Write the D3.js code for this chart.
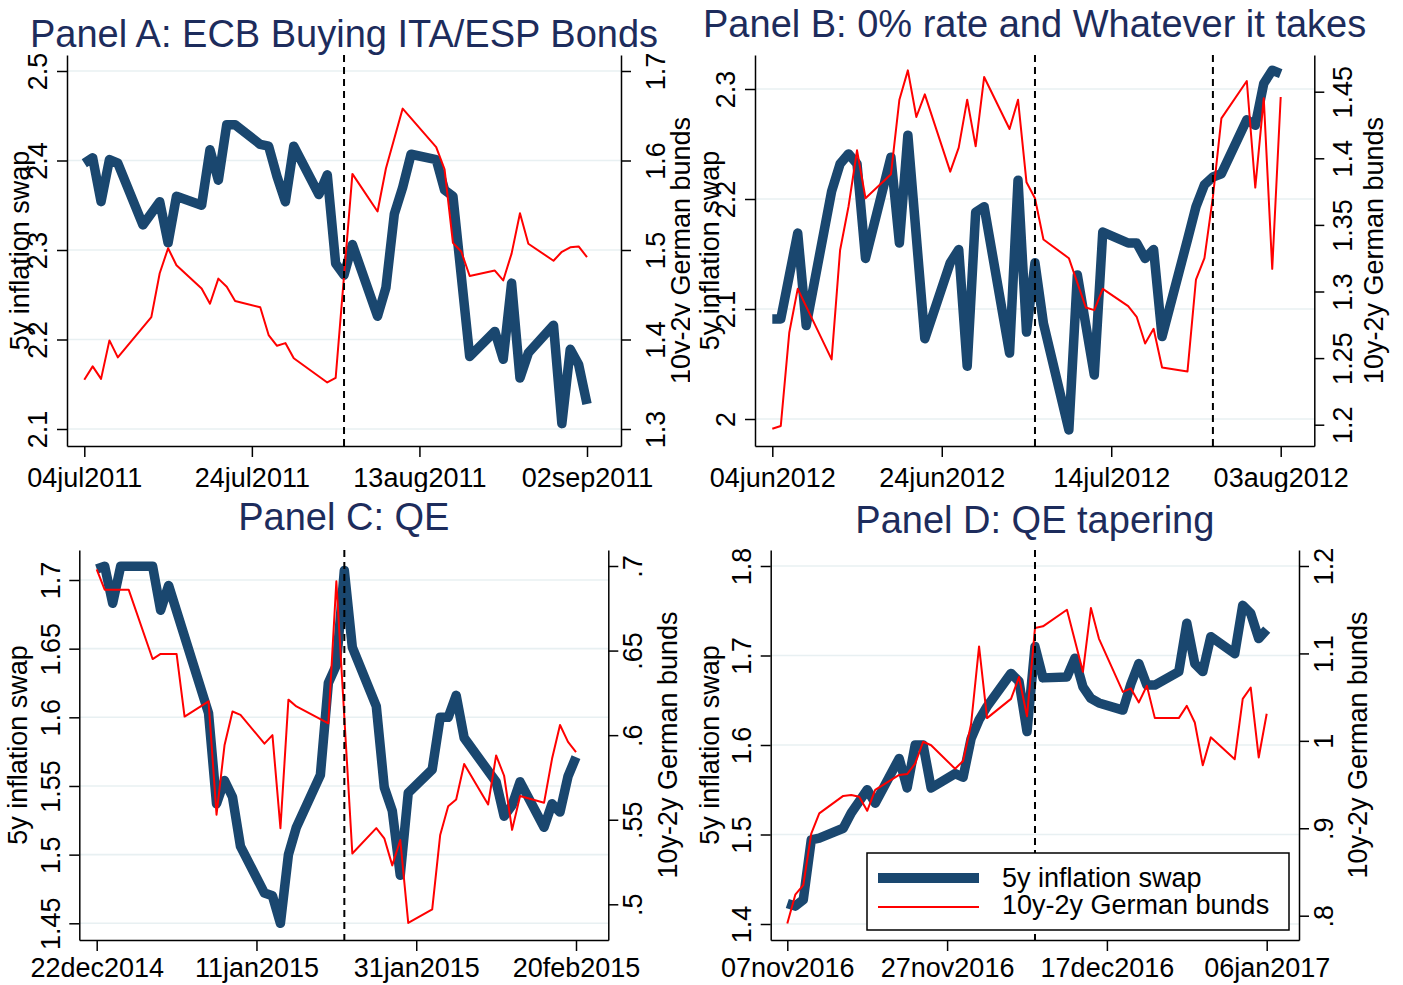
<!DOCTYPE html>
<html>
<head>
<meta charset="utf-8">
<script src="https://cdn.jsdelivr.net/npm/d3@7"></script>
<style>
    body { margin: 0; background: #fff; }
    svg { font-family: "Liberation Sans", Arial, Helvetica, sans-serif; }
    .grid line { stroke: #e8f0f2; stroke-width: 1.6; }
    .axis path, .axis line { stroke: #000; stroke-width: 1.5; }
    .axis text { font-size: 27px; fill: #000; font-family: "Liberation Sans", Arial, sans-serif; }
    .axis-title { font-size: 27px; fill: #000; }
    .panel-title { font-size: 38px; fill: #1d2c5c; }
    .legend-text { font-size: 27px; fill: #000; }
</style>
</head>
<body>
<svg id="chart" width="1403" height="985"></svg>
<script>

// ---- Panel A: ECB buying ITA/ESP bonds (2011) ----
const datesA = ["2011-07-04","2011-07-05","2011-07-06","2011-07-07","2011-07-08",
    "2011-07-11","2011-07-12","2011-07-13","2011-07-14","2011-07-15",
    "2011-07-18","2011-07-19","2011-07-20","2011-07-21","2011-07-22",
    "2011-07-25","2011-07-26","2011-07-27","2011-07-28","2011-07-29",
    "2011-08-01","2011-08-02","2011-08-03","2011-08-04","2011-08-05",
    "2011-08-08","2011-08-09","2011-08-10","2011-08-11","2011-08-12",
    "2011-08-15","2011-08-16","2011-08-17","2011-08-18","2011-08-19",
    "2011-08-22","2011-08-23","2011-08-24","2011-08-25","2011-08-26",
    "2011-08-29","2011-08-30","2011-08-31","2011-09-01","2011-09-02"];
const swapA = [2.397, 2.403, 2.354, 2.401, 2.397,
    2.328, null, 2.354, 2.308, 2.360,
    2.350, 2.412, 2.378, 2.440, 2.440,
    2.418, 2.416, 2.382, 2.354, 2.416,
    2.362, 2.384, 2.285, 2.272, 2.306,
    2.226, 2.258, 2.340, 2.370, 2.407,
    2.401, 2.367, 2.360, null, 2.181,
    2.209, 2.178, 2.263, 2.157, 2.185,
    2.216, 2.106, 2.189, 2.172, 2.128];
const bundA = [1.355, 1.370, 1.356, 1.399, 1.380,
    null, 1.425, 1.474, 1.502, 1.483,
    1.457, 1.440, 1.468, 1.459, 1.443,
    1.436, 1.405, 1.393, 1.396, 1.379,
    null, 1.352, 1.357, null, 1.585,
    1.543, 1.591, null, 1.658, null,
    1.615, 1.590, 1.508, 1.498, 1.471,
    1.477, 1.466, 1.496, 1.541, 1.507,
    1.488, 1.498, 1.503, 1.504, 1.492];
const eventsA = ["2011-08-04"];
const xTicksA = ["2011-07-04", "2011-07-24", "2011-08-13", "2011-09-02"];
const yLeftA = [2.1, 2.2, 2.3, 2.4, 2.5];
const yRightA = [1.3, 1.4, 1.5, 1.6, 1.7];

// ---- Panel B: 0% rate and Whatever it takes (2012) ----
const datesB = ["2012-06-04","2012-06-05","2012-06-06","2012-06-07","2012-06-08",
    "2012-06-11","2012-06-12","2012-06-13","2012-06-14","2012-06-15",
    "2012-06-18","2012-06-19","2012-06-20","2012-06-21","2012-06-22",
    "2012-06-25","2012-06-26","2012-06-27","2012-06-28","2012-06-29",
    "2012-07-02","2012-07-03","2012-07-04","2012-07-05","2012-07-06",
    "2012-07-09","2012-07-10","2012-07-11","2012-07-12","2012-07-13",
    "2012-07-16","2012-07-17","2012-07-18","2012-07-19","2012-07-20",
    "2012-07-23","2012-07-24","2012-07-25","2012-07-26","2012-07-27",
    "2012-07-30","2012-07-31","2012-08-01","2012-08-02","2012-08-03"];
const swapB = [2.091, 2.091, 2.130, 2.169, 2.085,
    2.207, 2.232, 2.241, 2.232, 2.146,
    2.238, 2.160, 2.258, null, 2.073,
    2.142, 2.154, 2.048, 2.188, 2.193,
    2.060, 2.217, 2.079, 2.142, 2.087,
    1.990, 2.131, null, 2.040, 2.170,
    2.160, 2.160, 2.146, 2.154, 2.075,
    2.163, 2.193, 2.213, 2.220, 2.223,
    2.272, 2.267, 2.305, 2.317, 2.314];
const bundB = [1.197, 1.199, 1.269, 1.302, null,
    1.249, 1.331, 1.364, 1.406, 1.370,
    1.388, 1.444, 1.466, 1.431, 1.448,
    1.390, 1.408, 1.444, 1.409, 1.461,
    1.422, 1.444, 1.382, 1.370, 1.339,
    1.325, null, 1.288, 1.286, 1.302,
    1.289, 1.281, 1.261, 1.272, 1.243,
    1.240, 1.309, 1.325, 1.371, 1.430,
    1.458, 1.378, 1.445, 1.317, 1.446];
const eventsB = ["2012-07-05", "2012-07-26"];
const xTicksB = ["2012-06-04", "2012-06-24", "2012-07-14", "2012-08-03"];
const yLeftB = [2, 2.1, 2.2, 2.3];
const yRightB = [1.2, 1.25, 1.3, 1.35, 1.4, 1.45];

// ---- Panel C: QE (2014-15) ----
const datesC = ["2014-12-22","2014-12-23","2014-12-24","2014-12-25","2014-12-26",
    "2014-12-29","2014-12-30","2014-12-31","2015-01-01","2015-01-02",
    "2015-01-05","2015-01-06","2015-01-07","2015-01-08","2015-01-09",
    "2015-01-12","2015-01-13","2015-01-14","2015-01-15","2015-01-16",
    "2015-01-19","2015-01-20","2015-01-21","2015-01-22","2015-01-23",
    "2015-01-26","2015-01-27","2015-01-28","2015-01-29","2015-01-30",
    "2015-02-02","2015-02-03","2015-02-04","2015-02-05","2015-02-06",
    "2015-02-09","2015-02-10","2015-02-11","2015-02-12","2015-02-13",
    "2015-02-16","2015-02-17","2015-02-18","2015-02-19","2015-02-20"];
const swapC = [1.708, 1.710, 1.683, 1.710, 1.710,
    1.710, 1.678, 1.696, null, null,
    1.603, 1.537, 1.554, 1.542, 1.506,
    1.472, 1.470, 1.450, 1.500, 1.520,
    1.558, 1.625, 1.638, 1.707, 1.651,
    1.608, 1.549, 1.532, 1.485, 1.545,
    1.562, 1.600, 1.600, 1.616, 1.585,
    null, 1.553, 1.528, 1.536, 1.553,
    1.520, 1.537, 1.531, 1.557, 1.571];
const bundC = [0.698, 0.686, 0.686, 0.686, 0.686,
    0.645, 0.648, 0.648, 0.648, 0.611,
    0.620, 0.553, 0.594, 0.614, 0.612,
    0.595, 0.600, 0.545, 0.621, 0.617,
    null, 0.607, 0.691, null, 0.530,
    0.545, 0.539, 0.523, 0.538, 0.489,
    0.497, 0.541, 0.558, 0.562, 0.583,
    0.559, 0.588, 0.576, 0.544, 0.564,
    0.560, 0.586, 0.606, 0.596, 0.590];
const eventsC = ["2015-01-22"];
const xTicksC = ["2014-12-22", "2015-01-11", "2015-01-31", "2015-02-20"];
const yLeftC = [1.45, 1.5, 1.55, 1.6, 1.65, 1.7];
const yRightC = [0.5, 0.55, 0.6, 0.65, 0.7];

// ---- Panel D: QE tapering (2016-17) ----
const datesD = ["2016-11-07","2016-11-08","2016-11-09","2016-11-10","2016-11-11",
    "2016-11-14","2016-11-15","2016-11-16","2016-11-17","2016-11-18",
    "2016-11-21","2016-11-22","2016-11-23","2016-11-24","2016-11-25",
    "2016-11-28","2016-11-29","2016-11-30","2016-12-01","2016-12-02",
    "2016-12-05","2016-12-06","2016-12-07","2016-12-08","2016-12-09",
    "2016-12-12","2016-12-13","2016-12-14","2016-12-15","2016-12-16",
    "2016-12-19","2016-12-20","2016-12-21","2016-12-22","2016-12-23",
    "2016-12-26","2016-12-27","2016-12-28","2016-12-29","2016-12-30",
    "2017-01-02","2017-01-03","2017-01-04","2017-01-05","2017-01-06"];
const swapD = [1.423, 1.420, 1.427, 1.494, 1.496,
    1.507, 1.524, 1.537, 1.550, 1.535,
    1.585, 1.552, 1.600, 1.600, 1.552,
    1.568, 1.564, 1.607, 1.628, 1.643,
    1.680, 1.671, 1.615, 1.710, 1.675,
    1.676, 1.697, 1.665, 1.652, 1.647,
    1.639, 1.668, 1.691, 1.667, 1.667,
    1.682, 1.736, 1.691, 1.682, 1.721,
    1.702, 1.756, 1.747, 1.719, 1.729];
const bundD = [0.791, 0.824, 0.835, 0.894, 0.917,
    0.937, 0.938, 0.936, 0.920, 0.944,
    0.961, 0.962, 0.974, 0.999, 0.995,
    0.968, 0.977, 1.019, 1.108, 1.026,
    1.048, 1.073, 1.028, 1.129, 1.131,
    1.150, null, 1.079, 1.152, 1.117,
    1.056, 1.060, 1.044, 1.063, 1.026,
    1.026, 1.040, 1.021, 0.972, 1.004,
    0.979, 1.048, 1.061, 0.981, 1.031];
const eventsD = ["2016-12-08"];
const xTicksD = ["2016-11-07", "2016-11-27", "2016-12-17", "2017-01-06"];
const yLeftD = [1.4, 1.5, 1.6, 1.7, 1.8];
const yRightD = [0.8, 0.9, 1, 1.1, 1.2];

const seriesNames = ["5y inflation swap", "10y-2y German bunds"];

// Page layout of the four combined graphs (pixels)
const layouts = {
    A: {cell: [0, 0, 690, 492], box: {left: 67, right: 621, top: 55, bottom: 446},
        xPx: [84.3, 587], yLeftPx: [429, 71], yRightPx: [429, 71],
        titleY: 47, xLabelY: 41, leftLabelX: -20, rightLabelX: 44, leftTitleX: 29, rightTitleX: 690},
    B: {cell: [691, 0, 1403, 492], box: {left: 755, right: 1314.3, top: 55, bottom: 446},
        xPx: [772.3, 1280.7], yLeftPx: [419, 89], yRightPx: [424.7, 91.7],
        titleY: 37, xLabelY: 41, leftLabelX: -20, rightLabelX: 38, leftTitleX: 719, rightTitleX: 1383},
    C: {cell: [0, 492, 691, 985], box: {left: 79.3, right: 608.3, top: 550, bottom: 940},
        xPx: [96.7, 576], yLeftPx: [923.3, 580], yRightPx: [904.3, 566],
        titleY: 530, xLabelY: 37, leftLabelX: -19, rightLabelX: 34, leftTitleX: 27, rightTitleX: 677},
    D: {cell: [691, 492, 1403, 985], box: {left: 770.7, right: 1299, top: 550, bottom: 940},
        xPx: [787.3, 1266.7], yLeftPx: [924, 566], yRightPx: [915.7, 566],
        titleY: 533, xLabelY: 37, leftLabelX: -20, rightLabelX: 34, leftTitleX: 719, rightTitleX: 1367,
        legend: {x: 867, y: 853, w: 422, h: 77, sampleX: [878, 979], rowY: [878, 907], textX: 1002, textY: [887, 914]}}
};

const panels = [
    {id: "A", title: "Panel A: ECB Buying ITA/ESP Bonds", dates: datesA, swap: swapA, bund: bundA,
        events: eventsA, xTicks: xTicksA, yLeftTicks: yLeftA, yRightTicks: yRightA},
    {id: "B", title: "Panel B: 0% rate and Whatever it takes", dates: datesB, swap: swapB, bund: bundB,
        events: eventsB, xTicks: xTicksB, yLeftTicks: yLeftB, yRightTicks: yRightB},
    {id: "C", title: "Panel C: QE", dates: datesC, swap: swapC, bund: bundC,
        events: eventsC, xTicks: xTicksC, yLeftTicks: yLeftC, yRightTicks: yRightC},
    {id: "D", title: "Panel D: QE tapering", dates: datesD, swap: swapD, bund: bundD,
        events: eventsD, xTicks: xTicksD, yLeftTicks: yLeftD, yRightTicks: yRightD}
];

const parseDate = d3.utcParse("%Y-%m-%d");
const formatDate = d => d3.utcFormat("%d%b%Y")(d).toLowerCase();
// Stata style numbers: no leading zero
const formatNum = v => d3.format("~g")(v).replace(/^0\./, ".");

// Scale that goes through two tick anchors, then stretched to the plot box
function anchored(scale, ticks, px, lo, hi) {
    scale.domain([ticks[0], ticks[ticks.length - 1]]).range(px);
    return scale.domain([scale.invert(lo), scale.invert(hi)]).range([lo, hi]);
}

class DualAxisPanel {
    constructor(svg, config, layout) {
        this.svg = svg;
        this.config = config;
        this.layout = layout;
        this.initVis();
    }

    initVis() {
        let vis = this;
        let L = vis.layout, box = L.box;

        // clip to this graph's cell, like graph combine does
        let clipId = "clip-" + vis.config.id;
        vis.svg.append("clipPath").attr("id", clipId)
            .append("rect")
            .attr("x", L.cell[0]).attr("y", L.cell[1])
            .attr("width", L.cell[2] - L.cell[0]).attr("height", L.cell[3] - L.cell[1]);
        vis.g = vis.svg.append("g").attr("clip-path", "url(#" + clipId + ")");

        let xt = vis.config.xTicks.map(parseDate);
        vis.x = anchored(d3.scaleUtc(), xt, L.xPx, box.left, box.right);
        vis.yLeft = anchored(d3.scaleLinear(), vis.config.yLeftTicks, L.yLeftPx, box.bottom, box.top);
        vis.yRight = anchored(d3.scaleLinear(), vis.config.yRightTicks, L.yRightPx, box.bottom, box.top);

        vis.data = vis.config.dates.map((d, i) => ({
            date: parseDate(d), swap: vis.config.swap[i], bund: vis.config.bund[i]
        }));

        vis.updateVis();
    }

    updateVis() {
        let vis = this;
        let L = vis.layout, box = L.box;

        // gridlines from the left axis
        vis.g.append("g").attr("class", "grid")
            .selectAll("line")
            .data(vis.config.yLeftTicks)
            .enter().append("line")
            .attr("x1", box.left).attr("x2", box.right)
            .attr("y1", d => vis.yLeft(d)).attr("y2", d => vis.yLeft(d));

        // x axis
        let xAxis = d3.axisBottom(vis.x)
            .tickValues(vis.config.xTicks.map(parseDate))
            .tickFormat(formatDate)
            .tickSize(11).tickSizeOuter(0);
        vis.g.append("g")
            .attr("class", "axis x-axis")
            .attr("transform", "translate(0," + box.bottom + ")")
            .call(xAxis)
            .selectAll(".tick text")
            .attr("y", L.xLabelY).attr("dy", null);

        // left y axis
        let yAxisLeft = d3.axisLeft(vis.yLeft)
            .tickValues(vis.config.yLeftTicks)
            .tickFormat(formatNum)
            .tickSize(10).tickSizeOuter(0);
        vis.g.append("g")
            .attr("class", "axis y-axis-left")
            .attr("transform", "translate(" + box.left + ",0)")
            .call(yAxisLeft)
            .selectAll(".tick text")
            .attr("x", null).attr("dy", null)
            .attr("text-anchor", "middle")
            .attr("transform", "translate(" + L.leftLabelX + ",0) rotate(-90)");

        // right y axis
        let yAxisRight = d3.axisRight(vis.yRight)
            .tickValues(vis.config.yRightTicks)
            .tickFormat(formatNum)
            .tickSize(10).tickSizeOuter(0);
        vis.g.append("g")
            .attr("class", "axis y-axis-right")
            .attr("transform", "translate(" + box.right + ",0)")
            .call(yAxisRight)
            .selectAll(".tick text")
            .attr("x", null).attr("dy", null)
            .attr("text-anchor", "middle")
            .attr("transform", "translate(" + L.rightLabelX + ",0) rotate(-90)");

        // swap on the left axis, bunds on the right axis
        let lineLeft = d3.line().x(d => vis.x(d.date)).y(d => vis.yLeft(d.swap));
        let lineRight = d3.line().x(d => vis.x(d.date)).y(d => vis.yRight(d.bund));

        vis.g.append("path")
            .datum(vis.data.filter(d => d.swap != null))
            .attr("class", "swap-line")
            .attr("fill", "none")
            .attr("stroke", "#1a476f")
            .attr("stroke-width", 9.5)
            .attr("stroke-linejoin", "round")
            .attr("d", lineLeft);

        vis.g.append("path")
            .datum(vis.data.filter(d => d.bund != null))
            .attr("class", "bund-line")
            .attr("fill", "none")
            .attr("stroke", "#ff0000")
            .attr("stroke-width", 2)
            .attr("stroke-linejoin", "round")
            .attr("d", lineRight);

        // event dates
        vis.g.selectAll(".event")
            .data(vis.config.events.map(parseDate))
            .enter().append("line")
            .attr("class", "event")
            .attr("x1", d => vis.x(d)).attr("x2", d => vis.x(d))
            .attr("y1", box.top).attr("y2", box.bottom)
            .attr("stroke", "#000")
            .attr("stroke-width", 2)
            .attr("stroke-dasharray", "7,5");

        // title
        vis.g.append("text")
            .attr("class", "panel-title")
            .attr("text-anchor", "middle")
            .attr("x", (box.left + box.right) / 2)
            .attr("y", L.titleY)
            .text(vis.config.title);

        // axis titles
        let midY = (box.top + box.bottom) / 2;
        vis.g.append("text")
            .attr("class", "axis-title")
            .attr("text-anchor", "middle")
            .attr("transform", "translate(" + L.leftTitleX + "," + midY + ") rotate(-90)")
            .text(seriesNames[0]);
        vis.g.append("text")
            .attr("class", "axis-title")
            .attr("text-anchor", "middle")
            .attr("transform", "translate(" + L.rightTitleX + "," + midY + ") rotate(-90)")
            .text(seriesNames[1]);

        // legend
        if (L.legend) {
            let lg = L.legend;
            vis.legend = vis.g.append("g").attr("class", "legend");
            vis.legend.append("rect")
                .attr("x", lg.x).attr("y", lg.y)
                .attr("width", lg.w).attr("height", lg.h)
                .attr("fill", "#fff").attr("stroke", "#000").attr("stroke-width", 1.5);
            let styles = [{color: "#1a476f", width: 10}, {color: "#ff0000", width: 2}];
            seriesNames.forEach((name, i) => {
                vis.legend.append("line")
                    .attr("x1", lg.sampleX[0]).attr("x2", lg.sampleX[1])
                    .attr("y1", lg.rowY[i]).attr("y2", lg.rowY[i])
                    .attr("stroke", styles[i].color)
                    .attr("stroke-width", styles[i].width);
                vis.legend.append("text")
                    .attr("class", "legend-text")
                    .attr("x", lg.textX).attr("y", lg.textY[i])
                    .text(name);
            });
        }
    }
}

let svg = d3.select("#chart");
panels.forEach(p => new DualAxisPanel(svg, p, layouts[p.id]));

</script>
</body>
</html>
